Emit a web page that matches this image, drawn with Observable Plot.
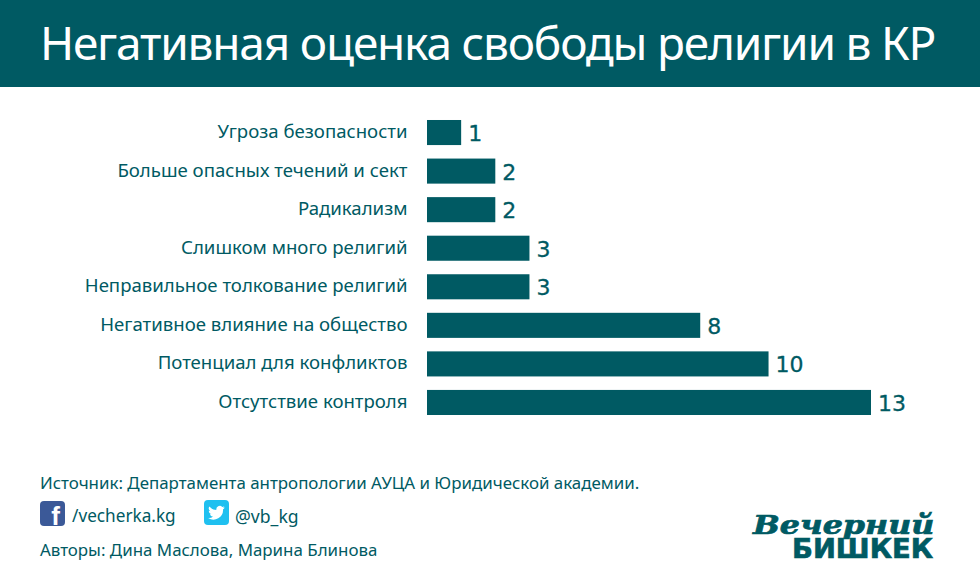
<!DOCTYPE html>
<html><head><meta charset="utf-8">
<script src="https://cdn.jsdelivr.net/npm/d3@7"></script>
<script src="https://cdn.jsdelivr.net/npm/@observablehq/plot@0.6"></script>
<style>
html,body{margin:0;padding:0;background:#fff;}
#page{position:relative;width:980px;height:587px;overflow:hidden;font-family:"Noto Sans",sans-serif;color:#005a63;}
#head{position:absolute;left:40px;top:-1px;height:87px;color:#fff;font-size:46px;line-height:86px;letter-spacing:-1.2px;white-space:nowrap;z-index:2;}
#band{position:absolute;left:0;top:0;width:980px;height:87px;background:#005a63;}
#chart{position:absolute;left:0;top:87px;}
.t{position:absolute;font-size:16.9px;white-space:nowrap;color:#005a63;line-height:20px;}
.logo{position:absolute;color:#005a63;white-space:nowrap;transform-origin:left top;-webkit-text-stroke:0.7px #005a63;}
.ic{position:absolute;width:25px;height:25px;border-radius:4px;color:#fff;text-align:center;font-family:"Liberation Sans",sans-serif;font-weight:bold;}
</style></head><body>
<div id="page">
<div id="band"></div>
<div id="head">Негативная оценка свободы религии в КР</div>
<div id="chart"></div>
<div class="t" style="left:40px;top:473px">Источник: Департамента антропологии АУЦА и Юридической академии.</div>
<div class="ic" style="left:40px;top:501px;background:#3b5998;font-size:26px;line-height:30px;text-align:right;box-sizing:border-box;padding-right:5px">f</div>
<div class="t" style="left:72px;top:506px;font-size:17.2px">/vecherka.kg</div>
<div class="ic" style="left:204px;top:500px;background:#1fc0f0">
<svg width="25" height="25" viewBox="0 0 24 24" style="display:block"><path fill="#fff" d="M20 7.2c-.6.3-1.2.4-1.9.5.7-.4 1.200-1 1.400-1.800-.6.4-1.300.6-2 .8A3.300 3.300 0 0 0 11.900 9.700 9.300 9.300 0 0 1 5.100 6.300a3.300 3.300 0 0 0 1 4.400c-.5 0-1-.2-1.500-.4 0 1.600 1.100 2.900 2.600 3.200-.5.1-1 .2-1.500.1.400 1.300 1.600 2.200 3.100 2.300A6.600 6.600 0 0 1 4 17.300a9.300 9.300 0 0 0 14.300-8.300c.7-.5 1.200-1.100 1.700-1.800z"/></svg></div>
<div class="t" style="left:235px;top:506px;font-size:17.6px">@vb_kg</div>
<div class="t" style="left:40px;top:540px">Авторы: Дина Маслова, Марина Блинова</div>
<div class="logo" style="left:753px;top:510px;font-family:'DejaVu Serif',serif;font-weight:bold;font-style:italic;font-size:26px;transform:scaleX(1.22)">Вечерний</div>
<div class="logo" style="left:792px;top:533px;font-family:'DejaVu Sans',sans-serif;font-weight:bold;font-size:27.4px">БИШКЕК</div>
</div>
<script>
const categories = ["Угроза безопасности","Больше опасных течений и сект","Радикализм","Слишком много религий","Неправильное толкование религий","Негативное влияние на общество","Потенциал для конфликтов","Отсутствие контроля"];
const values = [1,2,2,3,3,8,10,13];
const rows = categories.map((c,i)=>({c,v:values[i]}));
const color = "#005a63";
const plot = Plot.plot({
  width:980,height:345,marginLeft:427,marginRight:109,marginTop:19.5,marginBottom:3.5,
  style:{background:"transparent",fontFamily:'"Noto Sans",sans-serif',overflow:"visible"},
  x:{domain:[0,13],axis:null},
  y:{domain:categories,padding:0.35,round:false,label:null,axis:null},
  marks:[
    Plot.barX(rows,{x:"v",y:"c",fill:color}),
    Plot.text(rows,{x:"v",y:"c",text:d=>String(d.v),textAnchor:"start",dx:6.5,dy:1,fontSize:22,fontFamily:"DejaVu Sans",fill:color,stroke:color,strokeWidth:0.3}),
    Plot.axisY({tickSize:0,tickPadding:20,fontSize:18.6,color:color,label:null,dy:-1})
  ]
});
document.getElementById("chart").appendChild(plot);
</script>
</body></html>
